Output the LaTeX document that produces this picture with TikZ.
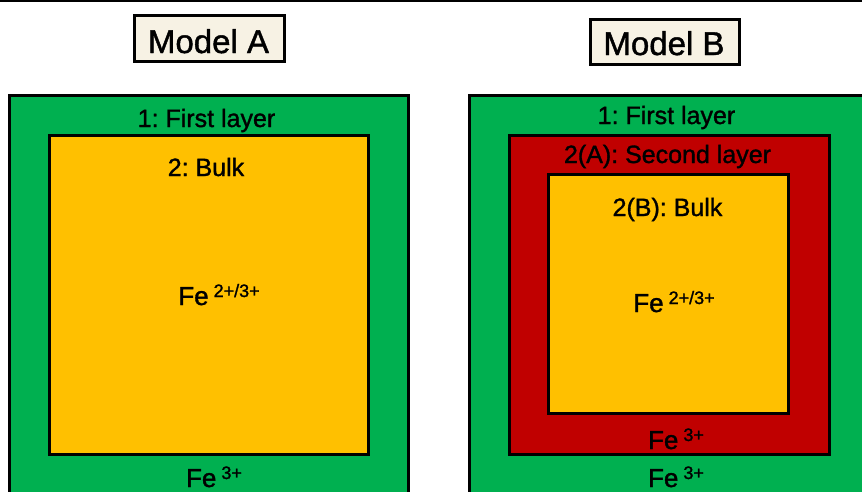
\documentclass[tikz,border=0pt]{standalone}
\usepackage{fontspec}
\setmainfont[FakeBold=1.3]{Liberation Sans}
\frenchspacing
\definecolor{lgreen}{HTML}{00B050}
\definecolor{lgold}{HTML}{FFC000}
\definecolor{lred}{HTML}{C00000}
\definecolor{lbeige}{HTML}{F7F2E4}
\tikzset{
  layer/.style={draw=black, line width=3pt},
  titlebox/.style={draw=black, fill=lbeige, line width=2.6pt, inner sep=0pt},
  titletext/.style={anchor=base, inner sep=0pt, font=\fontsize{33}{36}\selectfont},
  lbl/.style={anchor=base, inner sep=0pt, font=\fontsize{25}{28}\selectfont},
  felbl/.style={anchor=base, inner sep=0pt, font=\fontsize{26}{28}\selectfont},
}
\newcommand{\supx}[1]{\hspace{5pt}\raisebox{8pt}{\fontsize{18}{18}\selectfont #1}}
\begin{document}
\frenchspacing
\begin{tikzpicture}[x=1pt,y=-1pt]
\useasboundingbox (0,0) rectangle (862,491);
\begin{scope}
\clip (0,0) rectangle (862,491);
% top rule
\draw[line width=2pt] (0,1) -- (862,1);
% Model A
\draw[layer, fill=lgreen] (9.5,95.5) rectangle (408.5,510);
\draw[layer, fill=lgold] (49.5,135.5) rectangle (368.5,454.5);
% Model B
\draw[layer, fill=lgreen] (469.5,95.5) rectangle (880,510);
\draw[layer, fill=lred] (509.5,135.5) rectangle (829.5,454.5);
\draw[layer, fill=lgold] (548.5,174.5) rectangle (788.5,413.5);
\end{scope}
% titles
\node[titlebox, minimum width=150pt, minimum height=46pt] (boxA) at (209.5,38.5) {};
\node[titletext] (titleA) at (208.5,53) {Model A};
\node[titlebox, minimum width=149pt, minimum height=45pt] (boxB) at (665,42) {};
\node[titletext] (titleB) at (664,55) {Model B};
% labels A
\node[lbl] (a1) at (206.5,127) {1: First layer};
\node[lbl] (a2) at (206,176) {2: Bulk};
\node[felbl] (afe) at (219,305) {Fe\supx{2+/3+}};
\node[felbl] (afe3) at (214,487) {Fe\supx{3+}};
% labels B
\node[lbl] (b1) at (666.5,124) {1: First layer};
\node[lbl] (b2a) at (667.5,163) {2(A): Second layer};
\node[lbl] (b2b) at (667.5,216) {2(B): Bulk};
\node[felbl] (bfe) at (674,312) {Fe\supx{2+/3+}};
\node[felbl] (bfe3r) at (676,449) {Fe\supx{3+}};
\node[felbl] (bfe3g) at (676,487) {Fe\supx{3+}};
\end{tikzpicture}
\end{document}
